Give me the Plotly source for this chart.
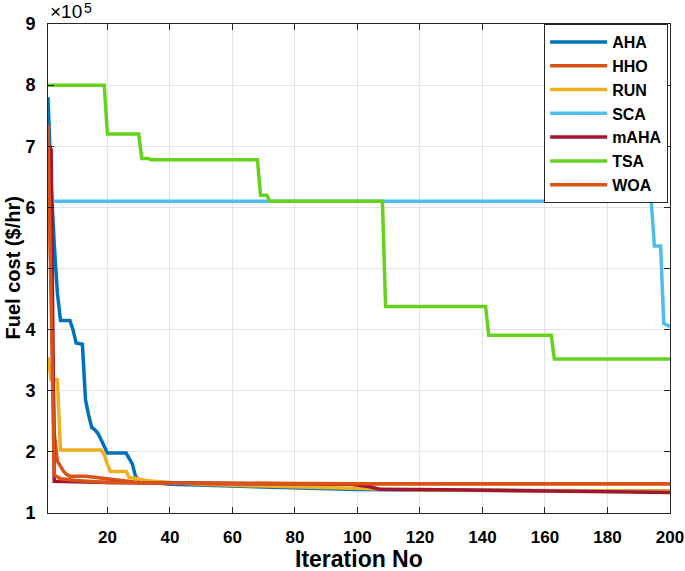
import plotly.graph_objects as go

# Convergence data (values in units of 1e5 $/hr)
AHA_x = [1, 2, 3, 4, 5, 8, 9, 10, 12, 13, 14, 15, 16, 17, 18, 19, 20, 26, 27, 28, 29, 30, 35, 40, 60, 80, 100, 120, 160, 200]
AHA_y = [7.8, 6.4, 5.4, 4.6, 4.15, 4.15, 4.0, 3.78, 3.76, 2.85, 2.6, 2.4, 2.36, 2.3, 2.2, 2.1, 1.98, 1.98, 1.88, 1.8, 1.6, 1.55, 1.5, 1.47, 1.44, 1.41, 1.385, 1.375, 1.365, 1.36]

HHO_x = [1, 2, 3, 4, 5, 6, 7, 8, 13, 16, 20, 25, 30, 40, 60, 100, 150, 200]
HHO_y = [7.35, 4.6, 2.3, 1.85, 1.76, 1.68, 1.63, 1.6, 1.6, 1.58, 1.56, 1.53, 1.5, 1.49, 1.485, 1.48, 1.48, 1.48]

RUN_x = [1, 2, 4, 5, 18, 19, 20, 21, 26, 27, 30, 32, 40, 50, 70, 90, 105, 120, 160, 200]
RUN_y = [3.55, 3.18, 3.18, 2.03, 2.03, 1.95, 1.8, 1.68, 1.68, 1.58, 1.56, 1.53, 1.5, 1.47, 1.44, 1.41, 1.385, 1.375, 1.365, 1.36]

SCA_x = [1, 194, 195, 197, 198, 200]
SCA_y = [6.1, 6.1, 5.37, 5.37, 4.1, 4.05]

mAHA_x = [1, 2, 3, 8, 20, 40, 60, 80, 98, 104, 107, 120, 140, 160, 180, 200]
mAHA_y = [7.02, 6.95, 1.52, 1.51, 1.5, 1.49, 1.48, 1.475, 1.47, 1.43, 1.39, 1.385, 1.37, 1.355, 1.345, 1.335]

TSA_x = [1, 19, 20, 30, 31, 33, 34, 68, 69, 71, 72, 108, 109, 141, 142, 162, 163, 200]
TSA_y = [8.0, 8.0, 7.2, 7.2, 6.8, 6.8, 6.78, 6.78, 6.2, 6.2, 6.1, 6.1, 4.38, 4.38, 3.91, 3.91, 3.52, 3.52]

WOA_x = [1, 2, 3, 5, 10, 20, 40, 60, 100, 150, 200]
WOA_y = [7.3, 4.0, 1.62, 1.56, 1.53, 1.5, 1.49, 1.48, 1.48, 1.48, 1.48]

names = ["AHA", "HHO", "RUN", "SCA", "mAHA", "TSA", "WOA"]
xs = [AHA_x, HHO_x, RUN_x, SCA_x, mAHA_x, TSA_x, WOA_x]
ys = [AHA_y, HHO_y, RUN_y, SCA_y, mAHA_y, TSA_y, WOA_y]
colors = ["#0072BD", "#D95319", "#EDB120", "#4DBEEE", "#A2142F", "#66D21E", "#D95319"]

x_ticks = [20, 40, 60, 80, 100, 120, 140, 160, 180, 200]
y_ticks = [1, 2, 3, 4, 5, 6, 7, 8, 9]

FONT = "Liberation Sans, Arial, sans-serif"

fig = go.Figure()
for n, x, y, c in zip(names, xs, ys, colors):
    fig.add_trace(go.Scatter(x=x, y=y, mode="lines", name=n,
                             line=dict(color=c, width=3.5)))

fig.update_layout(
    width=685, height=571,
    margin=dict(l=48, r=15, t=24, b=58, autoexpand=False),
    plot_bgcolor="white", paper_bgcolor="white",
    font=dict(family=FONT, size=17, color="black"),
    showlegend=True,
    legend=dict(
        x=0.997, y=1, xanchor="right", yanchor="top",
        bgcolor="white", bordercolor="#262626", borderwidth=1,
        font=dict(family=FONT, size=16, color="black", weight="bold"),
        itemwidth=57, tracegroupgap=0,
    ),
    xaxis=dict(
        range=[1, 200], tickvals=x_ticks, ticktext=[str(v) for v in x_ticks],
        ticks="inside", ticklen=6, tickcolor="#262626",
        showline=True, linecolor="#262626", linewidth=1, mirror="ticks",
        showgrid=True, gridcolor="#E3E3E3", gridwidth=1, zeroline=False,
        tickfont=dict(family=FONT, size=17, weight="bold"),
        ticklabelstandoff=9, automargin=False,
    ),
    yaxis=dict(
        range=[1, 9], tickvals=y_ticks, ticktext=[str(v) for v in y_ticks],
        ticks="inside", ticklen=6, tickcolor="#262626",
        showline=True, linecolor="#262626", linewidth=1, mirror="ticks",
        showgrid=True, gridcolor="#E3E3E3", gridwidth=1, zeroline=False,
        tickfont=dict(family=FONT, size=18, weight="bold"),
        ticklabelstandoff=8, automargin=False,
    ),
    annotations=[
        dict(text="×10", x=0, y=1, xref="paper", yref="paper",
             xanchor="left", yanchor="bottom", xshift=0, yshift=0, showarrow=False,
             font=dict(family=FONT, size=19, color="black")),
        dict(text="5", x=0, y=1, xref="paper", yref="paper",
             xanchor="left", yanchor="bottom", xshift=34, yshift=6, showarrow=False,
             font=dict(family=FONT, size=14, color="black")),
        dict(text="<b>Iteration No</b>", x=0.5, y=0, xref="paper", yref="paper",
             xanchor="center", yanchor="middle", yshift=-46, showarrow=False,
             font=dict(family=FONT, size=23, color="black")),
        dict(text="<b>Fuel cost ($/hr)</b>", x=0, y=0.5, xref="paper", yref="paper",
             xanchor="center", yanchor="middle", xshift=-36, textangle=-90, showarrow=False,
             font=dict(family=FONT, size=20, color="black")),
    ],
)

fig.write_html("out.html")
